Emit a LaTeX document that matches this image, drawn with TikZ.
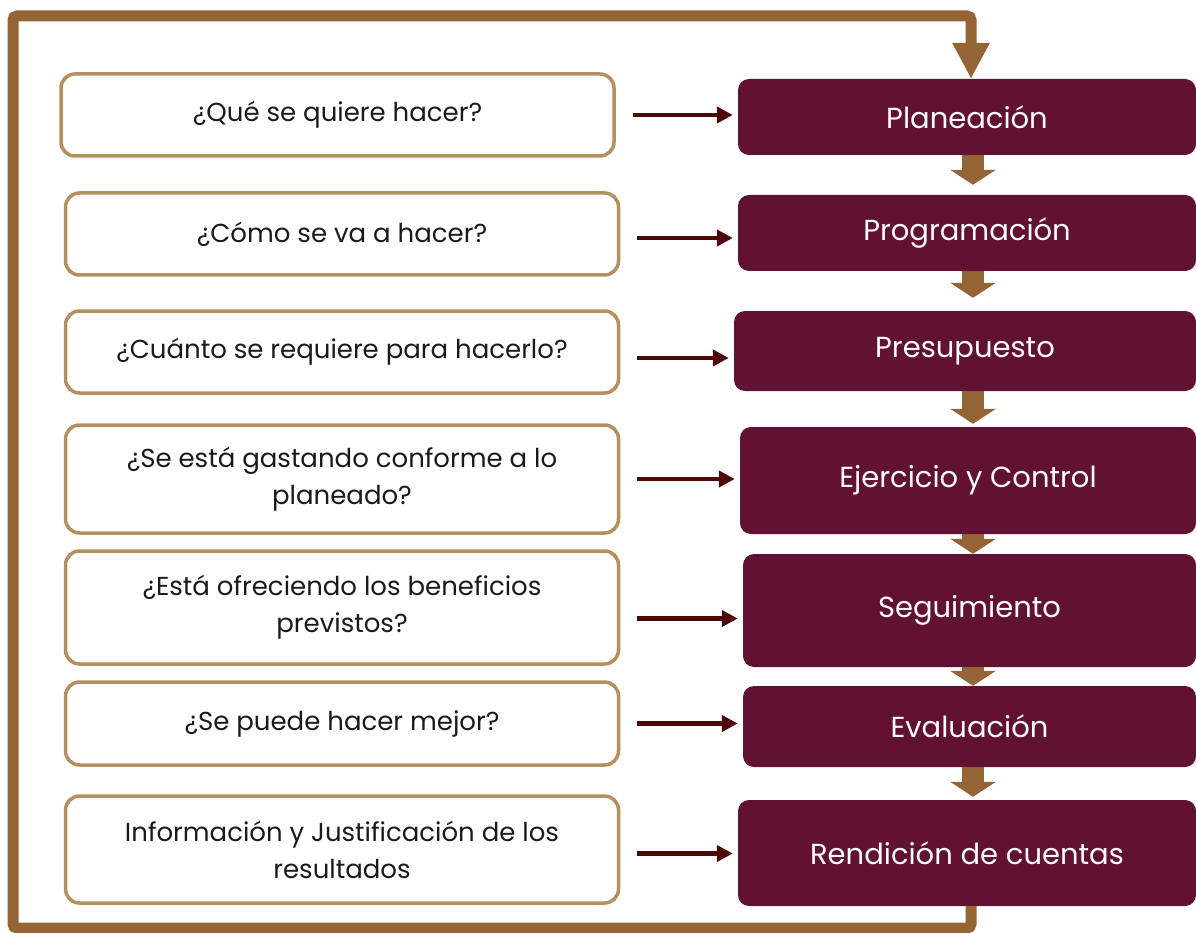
\documentclass[tikz,border=0pt]{standalone}
\usepackage{fontspec}
\setmainfont{Poppins}
\usetikzlibrary{arrows.meta}
\definecolor{loopbrown}{HTML}{946434}
\definecolor{tanline}{HTML}{B58F5E}
\definecolor{wine}{HTML}{611232}
\definecolor{darkred}{HTML}{4D0808}
\definecolor{inktext}{HTML}{1A1A1A}

\begin{document}
\begin{tikzpicture}[x=1pt,y=-1pt,
  qbox/.style={draw=tanline,line width=3.5pt,rounded corners=14pt,fill=white,
               minimum width=553pt,align=center,text=inktext,
               font=\fontsize{26}{37}\selectfont},
  sbox/.style={fill=wine,rounded corners=11pt,align=center,text=white,
               font=\fontsize{29}{32}\selectfont},
  link/.style={draw=darkred,line width=4.5pt,shorten <=17pt,shorten >=5pt,
               -{Triangle[length=16pt,width=16pt]}},
  flow/.style={draw=loopbrown,line width=22pt,shorten >=3pt,
               -{Triangle[length=15pt,width=45pt]}},
  loopline/.style={draw=loopbrown,line width=11pt,rounded corners=4pt,
               -{Triangle[length=36pt,width=35pt]}}]
 \useasboundingbox (0,0) rectangle (1196,933);
 % questions
 \node[qbox,minimum height=82pt] (q1) at (337.5,115) {¿Qué se quiere hacer?};
 \node[qbox,minimum height=82pt] (q2) at (342,234) {¿Cómo se va a hacer?};
 \node[qbox,minimum height=82pt] (q3) at (342,352) {¿Cuánto se requiere para hacerlo?};
 \node[qbox,minimum height=108pt] (q4) at (342,479) {¿Se está gastando conforme a lo\\planeado?};
 \node[qbox,minimum height=113pt] (q5) at (342,607.5) {¿Está ofreciendo los beneficios\\previstos?};
 \node[qbox,minimum height=83pt] (q6) at (342,723.5) {¿Se puede hacer mejor?};
 \node[qbox,minimum height=107pt] (q7) at (342,849.5) {Información y Justificación de los\\resultados};
 % stages
 \node[sbox,minimum width=458pt,minimum height=76pt] (s1) at (967,117) {Planeación};
 \node[sbox,minimum width=458pt,minimum height=76pt] (s2) at (967,233) {Programación};
 \node[sbox,minimum width=462pt,minimum height=80pt] (s3) at (965,351) {Presupuesto};
 \node[sbox,minimum width=456pt,minimum height=107pt] (s4) at (968,480.5) {Ejercicio y Control};
 \node[sbox,minimum width=453pt,minimum height=113pt] (s5) at (969.5,610.5) {Seguimiento};
 \node[sbox,minimum width=453pt,minimum height=81pt] (s6) at (969.5,726.5) {Evaluación};
 \node[sbox,minimum width=458pt,minimum height=106pt] (s7) at (967,853) {Rendición de cuentas};
 \coordinate (col) at (973,0);
 \coordinate (tr) at (971,16);
 \coordinate (bl) at (13,928);
 % question -> stage
 \draw[link] (q1.east) -- (q1.east -| s1.west);
 \draw[link] ([yshift=-4pt]q2.east) -- ([yshift=-4pt]q2.east -| s2.west);
 \draw[link] ([yshift=-6pt]q3.east) -- ([yshift=-6pt]q3.east -| s3.west);
 \draw[link] (q4.east) -- (q4.east -| s4.west);
 \draw[link] ([yshift=-11pt]q5.east) -- ([yshift=-11pt]q5.east -| s5.west);
 \draw[link] (q6.east) -- (q6.east -| s6.west);
 \draw[link] ([yshift=-4pt]q7.east) -- ([yshift=-4pt]q7.east -| s7.west);
 % stage -> stage
 \draw[flow,shorten >=10pt] (s1.south -| col) -- (s2.north -| col);
 \draw[flow,shorten >=13pt] (s2.south -| col) -- (s3.north -| col);
 \draw[flow] (s3.south -| col) -- (s4.north -| col);
 \draw[flow,shorten >=0pt] (s4.south -| col) -- (s5.north -| col);
 \draw[flow,shorten >=0pt] (s5.south -| col) -- (s6.north -| col);
 \draw[flow] (s6.south -| col) -- (s7.north -| col);
 % feedback loop
 \draw[loopline] (s7.south -| tr) -- (tr |- bl) -- (bl) -- (bl |- tr) -- (tr) -- (s1.north -| tr);
\end{tikzpicture}
\end{document}
